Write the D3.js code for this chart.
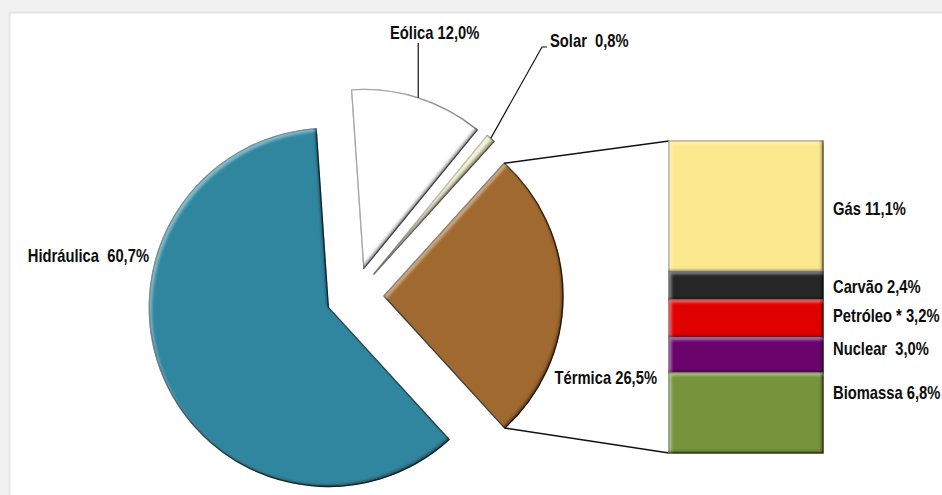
<!DOCTYPE html>
<html>
<head>
<meta charset="utf-8">
<script src="https://cdn.jsdelivr.net/npm/d3@7"></script>
<style>
  body { margin: 0; background: #f2f2f2; }
  svg { display: block; }
  .lbl { font-family: "Liberation Sans", Arial, sans-serif;
         font-weight: bold; font-size: 18px; fill: #0d0d0d; white-space: pre; }
</style>
</head>
<body>
<svg id="vis"></svg>
<script>
// pie slices, in clockwise order starting just left of 12 o'clock
const sources = ["Eólica", "Solar", "Térmica", "Hidráulica"];
const shares = [12.0, 0.8, 26.5, 60.7];
const shareLabels = ["Eólica 12,0%", "Solar  0,8%", "Térmica 26,5%", "Hidráulica  60,7%"];

// breakdown of the Térmica slice (bar of pie)
const thermal = ["Gás", "Carvão", "Petróleo", "Nuclear", "Biomassa"];
const thermalShares = [11.1, 2.4, 3.2, 3.0, 6.8];
const thermalLabels = ["Gás 11,1%", "Carvão 2,4%", "Petróleo * 3,2%", "Nuclear  3,0%", "Biomassa 6,8%"];

const width = 942;
const height = 495;

// pie geometry
const center = {x: 355, y: 296};
const radius = 179;
const explode = 29;
const startDeg = -3.9;

// bar geometry
const bar = {x: 669, w: 154, top: 141, bottom: 453};

// no narrow font installed, so squeeze the bold sans horizontally
const squeeze = 0.82;

const pieColors = {"Eólica": "#ffffff", "Solar": "#eeebc6", "Térmica": "#a0692f", "Hidráulica": "#31869f"};
const pieStrokes = {"Eólica": "#6e6e6e", "Solar": "#8f8d75", "Térmica": "#3a220c", "Hidráulica": "#123a46"};
const barColors = ["#fce98f", "#262626", "#e00000", "#6a046c", "#77933c"];

function addLabel(g, x, y, text, anchor) {
    return g.append("text").attr("class", "lbl")
        .attr("transform", `translate(${x},${y}) scale(${squeeze},1)`)
        .attr("text-anchor", anchor || "start")
        .text(text);
}

function main() {
    const svg = d3.select("#vis").attr("width", width).attr("height", height);

    // grey frame, white chart area
    svg.append("rect").attr("width", width).attr("height", height).attr("fill", "#f1f1f1");
    svg.append("rect").attr("x", 10).attr("y", 13).attr("width", width - 10).attr("height", height - 13)
        .attr("fill", "#fff");
    svg.append("line").attr("x1", 10).attr("x2", width).attr("y1", 12.5).attr("y2", 12.5)
        .attr("stroke", "#e2e2e2").attr("stroke-width", 2);
    svg.append("line").attr("x1", 9.5).attr("x2", 9.5).attr("y1", 12).attr("y2", height)
        .attr("stroke", "#e6e6e6").attr("stroke-width", 2);

    // soft bevel: light rim top-left, dark rim bottom-right
    const defs = svg.append("defs");
    const f = defs.append("filter").attr("id", "bevel").attr("x", "-5%").attr("y", "-5%")
        .attr("width", "110%").attr("height", "110%")
        .attr("color-interpolation-filters", "sRGB");
    f.append("feGaussianBlur").attr("in", "SourceAlpha").attr("stdDeviation", 1.6).attr("result", "blur");
    f.append("feOffset").attr("in", "blur").attr("dx", 2.5).attr("dy", 2.5).attr("result", "offHi");
    f.append("feComposite").attr("in", "SourceAlpha").attr("in2", "offHi").attr("operator", "out").attr("result", "rimHi");
    f.append("feFlood").attr("flood-color", "#fff").attr("flood-opacity", 0.45).attr("result", "white");
    f.append("feComposite").attr("in", "white").attr("in2", "rimHi").attr("operator", "in").attr("result", "hi");
    f.append("feOffset").attr("in", "blur").attr("dx", -2.5).attr("dy", -2.5).attr("result", "offLo");
    f.append("feComposite").attr("in", "SourceAlpha").attr("in2", "offLo").attr("operator", "out").attr("result", "rimLo");
    f.append("feFlood").attr("flood-color", "#000").attr("flood-opacity", 0.45).attr("result", "black");
    f.append("feComposite").attr("in", "black").attr("in2", "rimLo").attr("operator", "in").attr("result", "lo");
    const merge = f.append("feMerge");
    merge.append("feMergeNode").attr("in", "SourceGraphic");
    merge.append("feMergeNode").attr("in", "hi");
    merge.append("feMergeNode").attr("in", "lo");

    const data = sources.map((s, i) => ({name: s, value: shares[i], label: shareLabels[i]}));
    const start = startDeg * Math.PI / 180;
    const pie = d3.pie().value(d => d.value).sort(null).startAngle(start).endAngle(start + 2 * Math.PI);
    const arc = d3.arc().innerRadius(0).outerRadius(radius);
    const arcs = pie(data);

    // offset of each slice along its bisector
    arcs.forEach(a => {
        const mid = (a.startAngle + a.endAngle) / 2;
        a.cx = center.x + explode * Math.sin(mid);
        a.cy = center.y - explode * Math.cos(mid);
        a.mid = mid;
    });
    const polar = (a, ang, r) => [a.cx + r * Math.sin(ang), a.cy - r * Math.cos(ang)];

    svg.append("g").selectAll("path").data(arcs).join("path")
        .attr("transform", a => `translate(${a.cx},${a.cy})`)
        .attr("d", arc)
        .attr("fill", a => pieColors[a.data.name])
        .attr("stroke", a => pieStrokes[a.data.name])
        .attr("stroke-width", 1.3)
        .attr("stroke-linejoin", "round")
        .attr("filter", "url(#bevel)");

    // bar of pie for Térmica
    const y = d3.scaleLinear().domain([0, d3.sum(thermalShares)]).range([bar.top, bar.bottom]);
    let acc = 0;
    const segs = thermal.map((t, i) => {
        const s = {name: t, label: thermalLabels[i], y0: acc, y1: acc + thermalShares[i], color: barColors[i]};
        acc += thermalShares[i];
        return s;
    });

    // connector lines from the Térmica slice to the bar
    const term = arcs.find(a => a.data.name === "Térmica");
    const p0 = polar(term, term.startAngle, radius);
    const p1 = polar(term, term.endAngle, radius);
    svg.append("line").attr("x1", p0[0]).attr("y1", p0[1]).attr("x2", bar.x).attr("y2", y(0))
        .attr("stroke", "#111").attr("stroke-width", 1.5);
    svg.append("line").attr("x1", p1[0]).attr("y1", p1[1]).attr("x2", bar.x).attr("y2", y(acc))
        .attr("stroke", "#111").attr("stroke-width", 1.5);

    svg.append("g").selectAll("rect").data(segs).join("rect")
        .attr("x", bar.x).attr("width", bar.w)
        .attr("y", d => y(d.y0)).attr("height", d => y(d.y1) - y(d.y0))
        .attr("fill", d => d.color)
        .attr("stroke", d => d3.color(d.color).darker(1.8))
        .attr("stroke-width", 1.3)
        .attr("filter", "url(#bevel)");

    // bar labels, nudged like in the picture
    const nudge = [2, 1, -3, -7, -20];
    const lg = svg.append("g");
    segs.forEach((d, i) => {
        addLabel(lg, bar.x + bar.w + 10, (y(d.y0) + y(d.y1)) / 2 + nudge[i] + 6.5, d.label);
    });

    // pie labels and leaders
    const eol = arcs[0], sol = arcs[1], hid = arcs[3];
    const eTip = polar(eol, eol.mid, radius);
    svg.append("line").attr("x1", eTip[0]).attr("y1", eTip[1]).attr("x2", eTip[0]).attr("y2", 43)
        .attr("stroke", "#111").attr("stroke-width", 1.2);
    addLabel(svg, 390, 39, eol.data.label);

    const sTip = polar(sol, sol.mid, radius);
    svg.append("polyline")
        .attr("points", [sTip, [542, 47], [547, 47]].map(p => p.join(",")).join(" "))
        .attr("fill", "none").attr("stroke", "#111").attr("stroke-width", 1.2);
    addLabel(svg, 550, 47, sol.data.label);

    addLabel(svg, 657, 384, term.data.label, "end");
    addLabel(svg, 149, 262, hid.data.label, "end");
}

main();
</script>
</body>
</html>
